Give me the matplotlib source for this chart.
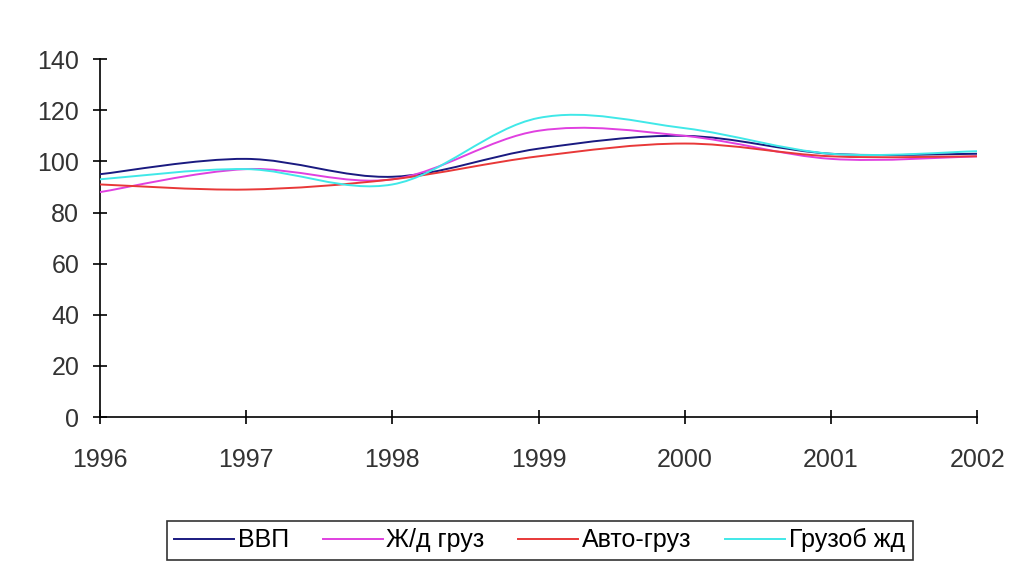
import numpy as np
import matplotlib
matplotlib.use("Agg")
import matplotlib.pyplot as plt
from matplotlib.path import Path
from matplotlib.patches import PathPatch
from matplotlib.lines import Line2D

years = [1996, 1997, 1998, 1999, 2000, 2001, 2002]
vvp = [95, 101, 94, 105, 110, 103, 103]
zhd_gruz = [88, 97, 93, 112, 110, 101, 102]
avto_gruz = [91, 89, 93, 102, 107, 102, 102]
gruzob_zhd = [93, 97, 91, 117, 113, 103, 104]

series = [
    ("ВВП", vvp, "#1a1a80"),
    ("Ж/д груз", zhd_gruz, "#e040e0"),
    ("Авто-груз", avto_gruz, "#e83838"),
    ("Грузоб жд", gruzob_zhd, "#40e8e8"),
]

plt.rcParams['font.family'] = ['Liberation Sans', 'DejaVu Sans']

fig = plt.figure(figsize=(10.2, 5.69), dpi=100)
ax = fig.add_axes([0.098, 0.267, 0.860, 0.629])


def smooth_path(x, y):
    x = np.asarray(x, float)
    y = np.asarray(y, float)
    n = len(x)
    verts = [(x[0], y[0])]
    codes = [Path.MOVETO]
    for i in range(n - 1):
        p0 = np.array([x[max(i - 1, 0)], y[max(i - 1, 0)]])
        p1 = np.array([x[i], y[i]])
        p2 = np.array([x[i + 1], y[i + 1]])
        p3 = np.array([x[min(i + 2, n - 1)], y[min(i + 2, n - 1)]])
        c1 = p1 + (p2 - p0) / 6.0
        c2 = p2 - (p3 - p1) / 6.0
        verts += [tuple(c1), tuple(c2), tuple(p2)]
        codes += [Path.CURVE4] * 3
    return Path(verts, codes)


handles = []
for name, vals, col in series:
    patch = PathPatch(smooth_path(years, vals), facecolor='none', edgecolor=col,
                      lw=1.4, zorder=3)
    ax.add_patch(patch)
    handles.append(Line2D([], [], color=col, lw=1.4, label=name))

ax.set_xlim(1996, 2002)
ax.set_ylim(0, 140)
ax.set_xticks(years)
ax.set_yticks(range(0, 141, 20))
ax.spines['top'].set_visible(False)
ax.spines['right'].set_visible(False)
ax.spines['left'].set_linewidth(1.2)
ax.spines['bottom'].set_linewidth(1.2)
ax.tick_params(axis='both', direction='inout', length=10, width=1.2,
               labelsize=18, colors='black', labelcolor='#333333')
ax.tick_params(axis='x', pad=17)
ax.tick_params(axis='y', pad=10)

leg = fig.legend(handles=handles, loc='center', bbox_to_anchor=(0.529, 0.0505),
                 ncol=4, frameon=True, fancybox=False, edgecolor='black',
                 fontsize=18, handlelength=2.4, handletextpad=0.15,
                 columnspacing=1.35, borderpad=0.3)
leg.get_frame().set_linewidth(1.2)

fig.savefig("out.png", dpi=100)
